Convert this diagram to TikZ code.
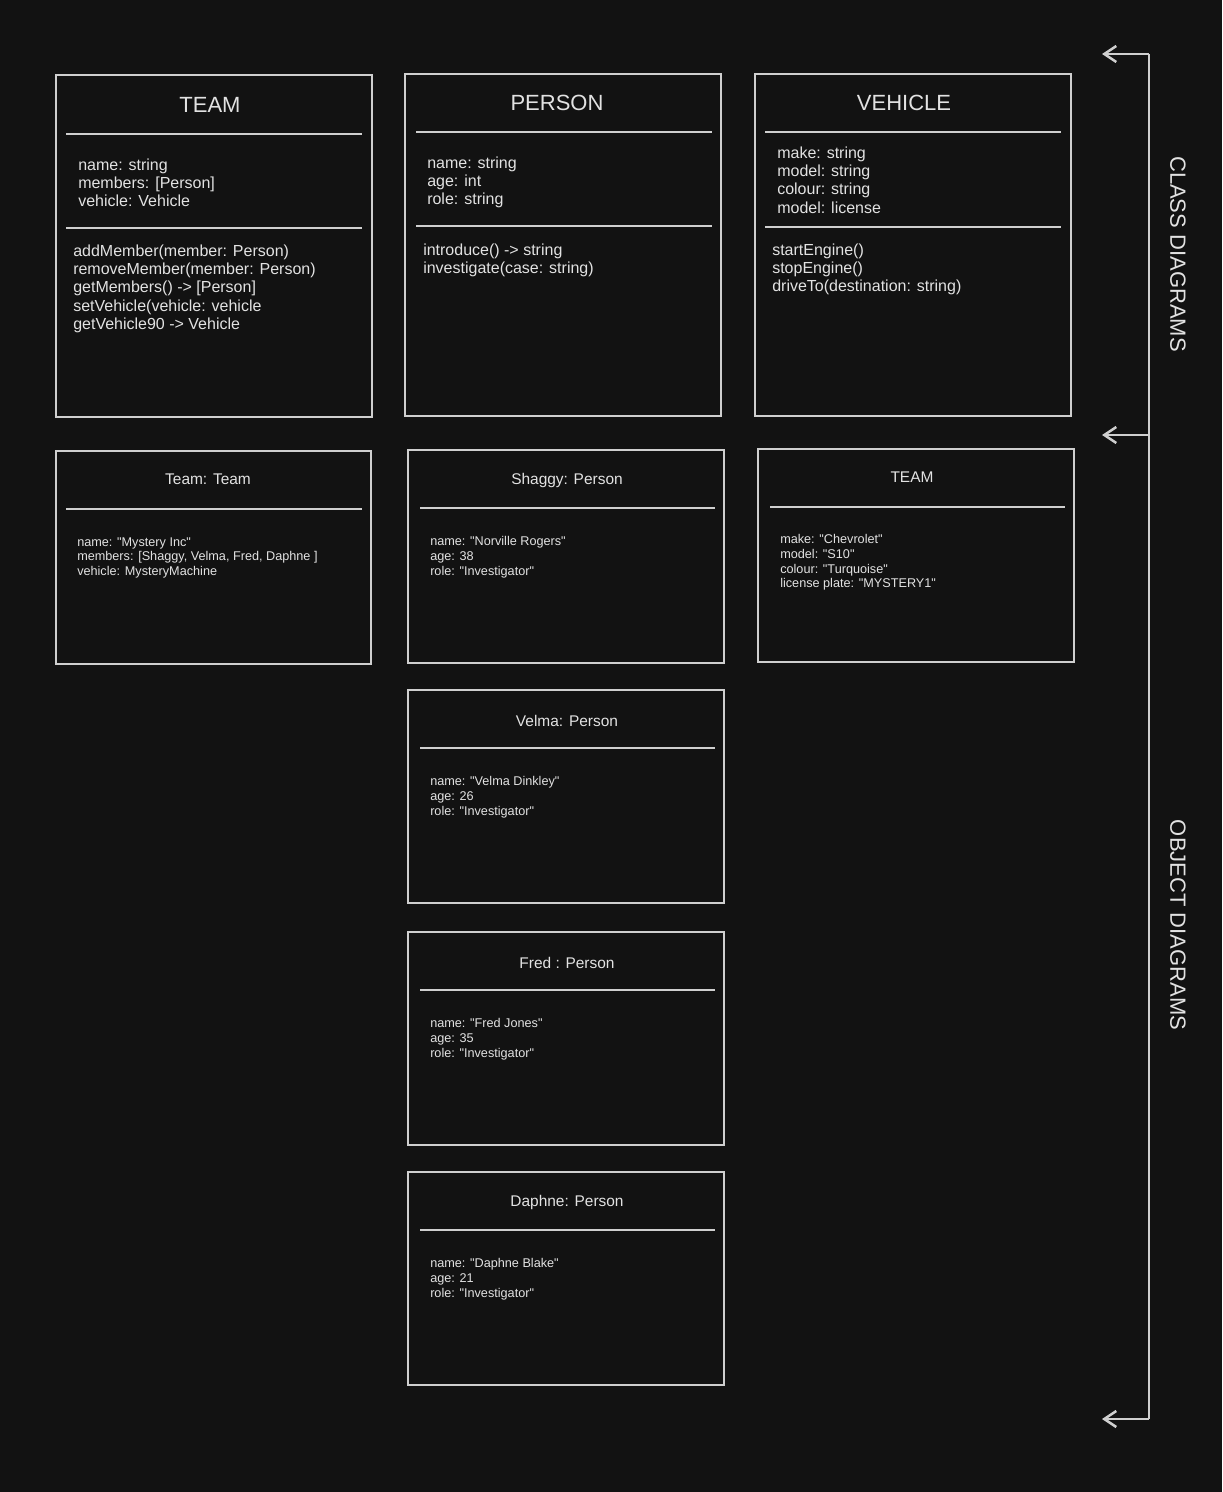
\documentclass[tikz,border=0pt]{standalone}
\usepackage{fontspec}
\setmainfont{Liberation Sans}[Ligatures=TeXOff]
\usetikzlibrary{arrows.meta}
\definecolor{canvas}{HTML}{121212}
\definecolor{inkline}{HTML}{CFCFCF}
\definecolor{inktext}{HTML}{E2E2E2}
\tikzset{
  umlbox/.style={draw=inkline, line width=1.7pt},
  divider/.style={draw=inkline, line width=1.1pt},
  classtitle/.style={text=inktext, inner sep=0pt, font=\fontsize{16.5}{19}\selectfont},
  classtext/.style={text=inktext, inner sep=0pt, anchor=north west, align=left,
    font=\fontsize{12}{13.7}\selectfont},
  objtitle/.style={text=inktext, inner sep=0pt, font=\fontsize{11.6}{13}\selectfont},
  objtext/.style={text=inktext, inner sep=0pt, anchor=north west, align=left,
    font=\fontsize{9.5}{11}\selectfont},
  sidelabel/.style={text=inktext, inner sep=0pt, rotate=-90, font=\fontsize{16.5}{19}\selectfont},
  bracket/.style={draw=inkline, line width=1.9pt},
  pointer/.style={bracket, -{Straight Barb[length=9pt, width=12pt]}},
}

\begin{document}
\begin{tikzpicture}[x=0.75pt, y=-0.75pt]
\fill[canvas] (0,0) rectangle (1222,1492);
\useasboundingbox (0,0) rectangle (1222,1492);

% class diagrams
\draw[umlbox] (56,75) rectangle (372,417);
\node[classtitle] (team-title) at (210,105) {TEAM};
\draw[divider] (66,134) -- (362,134);
\node[classtext] (team-attrs) at (78,158.4) {name: string\\members: [Person]\\vehicle: Vehicle};
\draw[divider] (66,228) -- (362,228);
\node[classtext] (team-ops) at (73,244.4) {addMember(member: Person)\\removeMember(member: Person)\\getMembers() -> [Person]\\setVehicle(vehicle: vehicle\\getVehicle90 -> Vehicle};

\draw[umlbox] (405,74) rectangle (721,416);
\node[classtitle] (person-title) at (557,103) {PERSON};
\draw[divider] (416,132) -- (712,132);
\node[classtext] (person-attrs) at (427,156.4) {name: string\\age: int\\role: string};
\draw[divider] (416,226) -- (712,226);
\node[classtext] (person-ops) at (423,243.4) {introduce() -> string\\investigate(case: string)};

\draw[umlbox] (755,74) rectangle (1071,416);
\node[classtitle] (vehicle-title) at (904,103) {VEHICLE};
\draw[divider] (765,132) -- (1061,132);
\node[classtext] (vehicle-attrs) at (777,146.4) {make: string\\model: string\\colour: string\\model: license};
\draw[divider] (765,227) -- (1061,227);
\node[classtext] (vehicle-ops) at (772,243.4) {startEngine()\\stopEngine()\\driveTo(destination: string)};

% object diagrams
\draw[umlbox] (56,451) rectangle (371,664);
\node[objtitle] (teamobj-title) at (208,479) {Team: Team};
\draw[divider] (66,509) -- (362,509);
\node[objtext] (teamobj-attrs) at (77,537.3) {name: "Mystery Inc"\\members: [Shaggy, Velma, Fred, Daphne ]\\vehicle: MysteryMachine};

\draw[umlbox] (758,449) rectangle (1074,662);
\node[objtitle] (van-title) at (912,477.5) {TEAM};
\draw[divider] (770,507) -- (1065,507);
\node[objtext] (van-attrs) at (780,534.3) {make: "Chevrolet"\\model: "S10"\\colour: "Turquoise"\\license plate: "MYSTERY1"};

\foreach \who/\head/\full/\age/\dy in {
  shaggy/Shaggy: Person/Norville Rogers/38/0,
  velma/Velma: Person/Velma Dinkley/26/240,
  fred/Fred : Person/Fred Jones/35/482,
  daphne/Daphne: Person/Daphne Blake/21/722}{
  \draw[umlbox] (408,{450+\dy}) rectangle (724,{663+\dy});
  \node[objtitle] (\who-title) at (567,{480.5+\dy}) {\head};
  \draw[divider] (420,{508+\dy}) -- (715,{508+\dy});
  \node[objtext] (\who-attrs) at (430,{536.3+\dy}) {name: "\full"\\age: \age\\role: "Investigator"};
}

% bracket on the right
\coordinate (brk-top) at (1149,54);
\coordinate (brk-mid) at (1149,435);
\coordinate (brk-bot) at (1149,1419);
\coordinate (tip-top) at (1102,54);
\coordinate (tip-mid) at (1102,435);
\coordinate (tip-bot) at (1102,1419);
\draw[bracket] (brk-top) -- (brk-bot);
\draw[pointer] (brk-top) -- (tip-top);
\draw[pointer] (brk-mid) -- (tip-mid);
\draw[pointer] (brk-bot) -- (tip-bot);
\node[sidelabel] (class-label) at (1178,254) {CLASS DIAGRAMS};
\node[sidelabel] (object-label) at (1178,925) {OBJECT DIAGRAMS};
\end{tikzpicture}
\end{document}
